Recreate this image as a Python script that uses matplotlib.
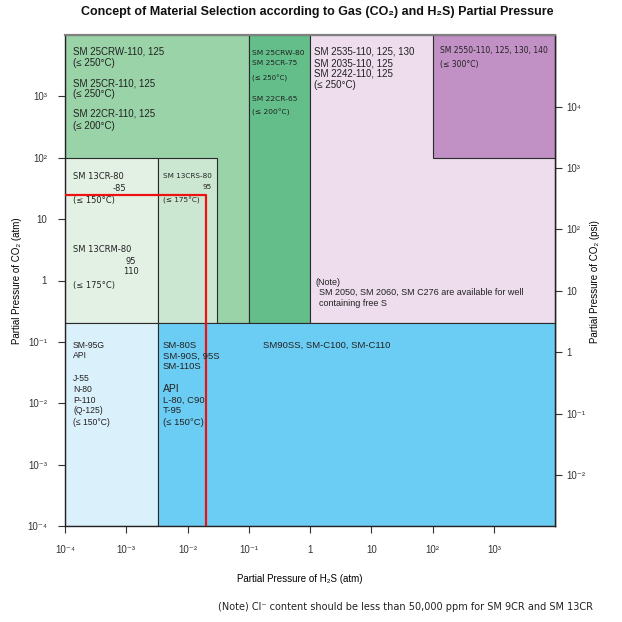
import numpy as np
import matplotlib
matplotlib.use('Agg')
import matplotlib.pyplot as plt
from matplotlib.ticker import NullLocator

plt.rcParams['font.family'] = ['Liberation Sans', 'DejaVu Sans']

ATM_TO_PSI = 14.7

# regions: H2S range (atm), CO2 range (atm), colour
h2s_lo = [1e-4, 0.1, 1, 100, 1e-4, 0.0033, 1e-4, 0.0033]
h2s_hi = [0.1, 1, 1e4, 1e4, 0.0033, 0.03, 0.0033, 1e4]
co2_lo = [0.2, 0.2, 0.2, 100, 0.2, 0.2, 1e-4, 1e-4]
co2_hi = [1e4, 1e4, 1e4, 1e4, 100, 100, 0.2, 0.2]
box_colors = ['#9ad3a8', '#63be8a', '#eddded', '#c190c5',
              '#e3f1e5', '#cce7d1', '#daf0fa', '#6ccdf4']

# red limit line for 13CR
red_h2s = [1e-4, 0.02, 0.02]
red_co2 = [25, 25, 1e-4]

x_ticks = [1e-4, 1e-3, 1e-2, 1e-1, 1, 10, 1e2, 1e3]
x_labels = ['10⁻⁴', '10⁻³', '10⁻²', '10⁻¹', '1', '10', '10²', '10³']
y_ticks = [1e-4, 1e-3, 1e-2, 1e-1, 1, 10, 1e2, 1e3]
y_labels = ['10⁻⁴', '10⁻³', '10⁻²', '10⁻¹', '1', '10', '10²', '10³']
psi_ticks = [1e-2, 1e-1, 1, 10, 1e2, 1e3, 1e4]
psi_labels = ['10⁻²', '10⁻¹', '1', '10', '10²', '10³', '10⁴']

DV = ['DejaVu Sans']
LS = ['Liberation Sans', 'DejaVu Sans']

# text per box: (box index, corner, dx, dy, size, family, text)
labels = [
    (0, 'tl', 8, -17, 7, LS, 'SM 25CRW-110, 125'),
    (0, 'tl', 8, -28, 7, LS, '(≤ 250°C)'),
    (0, 'tl', 8, -48, 7, LS, 'SM 25CR-110, 125'),
    (0, 'tl', 8, -59, 7, LS, '(≤ 250°C)'),
    (0, 'tl', 8, -79, 7, LS, 'SM 22CR-110, 125'),
    (0, 'tl', 8, -91, 7, LS, '(≤ 200°C)'),
    (1, 'tl', 3, -18, 5.4, DV, 'SM 25CRW-80'),
    (1, 'tl', 3, -28, 5.4, DV, 'SM 25CR-75'),
    (1, 'tl', 3, -43, 5.0, DV, '(≤ 250°C)'),
    (1, 'tl', 3, -64, 5.4, DV, 'SM 22CR-65'),
    (1, 'tl', 3, -77, 5.4, DV, '(≤ 200°C)'),
    (2, 'tl', 4, -17, 7, LS, 'SM 2535-110, 125, 130'),
    (2, 'tl', 4, -28, 7, LS, 'SM 2035-110, 125'),
    (2, 'tl', 4, -38, 7, LS, 'SM 2242-110, 125'),
    (2, 'tl', 4, -50, 7, LS, '(≤ 250°C)'),
    (2, 'bl', 6, 41, 6.5, LS, '(Note)'),
    (2, 'bl', 9, 31, 6.5, LS, 'SM 2050, SM 2060, SM C276 are available for well'),
    (2, 'bl', 9, 20, 6.5, LS, 'containing free S'),
    (3, 'tl', 7, -16, 5.5, DV, 'SM 2550-110, 125, 130, 140'),
    (3, 'tl', 7, -29, 5.5, DV, '(≤ 300°C)'),
    (4, 'tl', 8, -19, 6, DV, 'SM 13CR-80'),
    (4, 'tl', 48, -31, 6, DV, '-85'),
    (4, 'tl', 8, -43, 6, DV, '(≤ 150°C)'),
    (4, 'tl', 8, -92, 6, DV, 'SM 13CRM-80'),
    (4, 'tl', 60, -104, 6, DV, '95'),
    (4, 'tl', 58, -114, 6, DV, '110'),
    (4, 'tl', 8, -128, 6, DV, '(≤ 175°C)'),
    (5, 'tl', 5, -18, 5.2, DV, 'SM 13CRS-80'),
    (5, 'tl', 44, -29, 5.2, DV, '95'),
    (5, 'tl', 5, -43, 5.2, DV, '(≤ 175°C)'),
    (6, 'tl', 8, -22, 6.2, LS, 'SM-95G'),
    (6, 'tl', 8, -32, 6.2, LS, 'API'),
    (6, 'tl', 8, -55, 6.2, LS, 'J-55'),
    (6, 'tl', 8, -66, 6.2, LS, 'N-80'),
    (6, 'tl', 8, -77, 6.2, LS, 'P-110'),
    (6, 'tl', 8, -87, 6.2, LS, '(Q-125)'),
    (6, 'tl', 8, -99, 6.2, LS, '(≤ 150°C)'),
    (7, 'tl', 5, -22, 6.8, LS, 'SM-80S'),
    (7, 'tl', 5, -33, 6.8, LS, 'SM-90S, 95S'),
    (7, 'tl', 5, -43, 6.8, LS, 'SM-110S'),
    (7, 'tl', 5, -66, 7.5, LS, 'API'),
    (7, 'tl', 5, -77, 6.8, LS, 'L-80, C90'),
    (7, 'tl', 5, -87, 6.8, LS, 'T-95'),
    (7, 'tl', 5, -99, 6.8, LS, '(≤ 150°C)'),
    (7, 'tl', 105, -22, 6.8, LS, 'SM90SS, SM-C100, SM-C110'),
]

fig = plt.figure(figsize=(6.22, 6.22), dpi=100)
ax = fig.add_axes([65 / 622, 96 / 622, 490 / 622, 491 / 622])
ax.set_xscale('log')
ax.set_yscale('log')
ax.set_xlim(1e-4, 1e4)
ax.set_ylim(1e-4, 1e4)

for x0, x1, y0, y1, c in zip(h2s_lo, h2s_hi, co2_lo, co2_hi, box_colors):
    ax.fill([x0, x1, x1, x0], [y0, y0, y1, y1], facecolor=c,
            edgecolor='#2a2a2a', linewidth=0.8, zorder=1)

ax.plot(red_h2s, red_co2, color='#ee1111', linewidth=1.6, zorder=3)

for i, corner, dx, dy, size, fam, txt in labels:
    y_anchor = co2_hi[i] if corner == 'tl' else co2_lo[i]
    ax.annotate(txt, xy=(h2s_lo[i], y_anchor), xytext=(dx, dy),
                textcoords='offset pixels', ha='left', va='center',
                fontsize=size, family=fam, color='#222222', zorder=4)

ax.set_xticks(x_ticks, labels=x_labels)
ax.set_yticks(y_ticks, labels=y_labels)
ax.xaxis.set_minor_locator(NullLocator())
ax.yaxis.set_minor_locator(NullLocator())
ax.tick_params(direction='out', length=5, width=0.8, labelsize=7,
               colors='#333333', pad=8)
ax.tick_params(axis='x', pad=9)

for s in ['left', 'bottom', 'right']:
    ax.spines[s].set_linewidth(1.0)
    ax.spines[s].set_color('#222222')
ax.spines['top'].set_color('#808080')
ax.spines['top'].set_linewidth(1.6)

secax = ax.secondary_yaxis('right', functions=(lambda a: a * ATM_TO_PSI,
                                                lambda p: p / ATM_TO_PSI))
secax.set_yticks(psi_ticks, labels=psi_labels)
secax.yaxis.set_minor_locator(NullLocator())
secax.tick_params(direction='out', length=5, width=0.8, labelsize=7,
                  colors='#333333', pad=3)
secax.spines['right'].set_linewidth(1.0)

ax.set_ylabel('Partial Pressure of CO₂ (atm)', fontsize=7)
ax.yaxis.set_label_coords(-(65 - 22) / 490, 0.5)
ax.set_xlabel('Partial Pressure of H₂S (atm)', fontsize=7)
ax.xaxis.set_label_coords((300 - 65) / 490, -(574 - 526) / 491)

fig.text(595 / 622, 1 - 282 / 622, 'Partial Pressure of CO₂ (psi)',
         rotation=90, ha='center', va='center', fontsize=7)
fig.text(317 / 622, 1 - 12 / 622,
         'Concept of Material Selection according to Gas (CO₂) and H₂S) Partial Pressure',
         ha='center', va='center', fontsize=9, fontweight='bold', color='#111111')
fig.text(218 / 622, 1 - 607 / 622,
         '(Note) Cl⁻ content should be less than 50,000 ppm for SM 9CR and SM 13CR',
         ha='left', va='center', fontsize=7.0, family=DV, color='#222222')

fig.savefig('out.png', dpi=100)
